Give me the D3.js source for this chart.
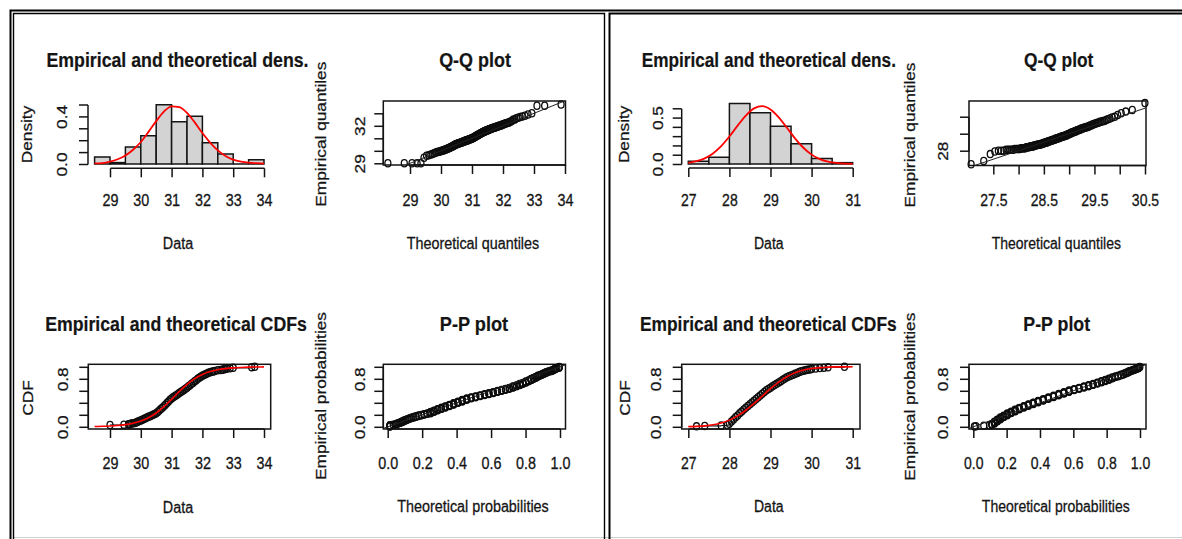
<!DOCTYPE html>
<html>
<head>
<meta charset="utf-8">
<script src="https://cdn.jsdelivr.net/npm/d3@7"></script>
<style>
  body { margin: 0; background: #fff; }
  svg { display: block; }
</style>
</head>
<body>
<div id="container"></div>
<script>
/* DATA */
// fitted distributions
const locA = 31.08, scaleA = 0.48;   // left: logistic
const meanB = 28.78, sdB = 0.64;     // right: normal

// samples as frequency tables (value, count)
const sampleAValues = [29.0, 29.45,
  29.6, 29.65, 29.7, 29.75, 29.8, 29.85, 29.9, 29.95, 30.0,
  30.05, 30.1, 30.15, 30.2, 30.25, 30.3, 30.35, 30.4, 30.45, 30.5,
  30.55, 30.6, 30.65, 30.7, 30.75, 30.8, 30.85, 30.9, 30.95, 31.0,
  31.05, 31.1, 31.15, 31.2, 31.25, 31.3, 31.35, 31.4, 31.45, 31.5,
  31.55, 31.6, 31.65, 31.7, 31.75, 31.8, 31.85, 31.9, 31.95, 32.0,
  32.05, 32.1, 32.15, 32.2, 32.25, 32.3, 32.35, 32.4, 32.5,
  32.6, 32.65, 32.7, 32.75, 32.8, 32.9, 33.0,
  33.6, 33.7];
const sampleACounts = [5, 1,
  1, 1, 1, 1, 1, 1, 2, 2, 2,
  2, 2, 2, 2, 2, 2, 2, 2, 2, 2,
  4, 4, 4, 4, 4, 4, 5, 4, 5, 4,
  3, 3, 3, 3, 3, 3, 3, 3, 3, 3,
  4, 3, 4, 3, 4, 3, 4, 3, 3, 3,
  2, 2, 2, 2, 2, 1, 1, 1, 2,
  1, 1, 1, 1, 1, 1, 1,
  2, 1];

const sampleBValues = [27.2, 27.4, 27.8, 27.95, 28.0,
  28.05, 28.1, 28.15, 28.2, 28.25, 28.3, 28.35, 28.4, 28.45, 28.5,
  28.55, 28.6, 28.65, 28.7, 28.75, 28.8, 28.85, 28.9, 28.95, 29.0,
  29.05, 29.1, 29.15, 29.2, 29.25, 29.3, 29.35, 29.4, 29.45, 29.5,
  29.55, 29.6, 29.65, 29.7, 29.75, 29.8, 29.85, 29.9, 29.95, 30.0,
  30.1, 30.2, 30.3, 30.4, 30.8];
const sampleBCounts = [1, 1, 1, 1, 3,
  5, 5, 5, 4, 5, 4, 5, 4, 4, 4,
  4, 4, 4, 4, 4, 4, 4, 4, 3, 3,
  3, 3, 3, 3, 3, 3, 3, 3, 2, 2,
  2, 2, 2, 2, 2, 1, 1, 1, 1, 1,
  1, 1, 1, 1, 1];

// histograms
const histABreaks = [28.5, 29, 29.5, 30, 30.5, 31, 31.5, 32, 32.5, 33, 33.5, 34];
const histADensity = [0.059, 0.012, 0.142, 0.237, 0.497, 0.355, 0.402, 0.178, 0.083, 0.0, 0.036];
const histBBreaks = [27, 27.5, 28, 28.5, 29, 29.5, 30, 30.5, 31];
const histBDensity = [0.029, 0.072, 0.652, 0.551, 0.406, 0.217, 0.058, 0.0145];

// red theoretical curves
const curveAX = [28.5, 28.75, 29, 29.25, 29.5, 29.75, 30, 30.25, 30.5, 30.75, 31, 31.25,
  31.5, 31.75, 32, 32.25, 32.5, 32.75, 33, 33.25, 33.5, 33.75, 34];
const densAY = [0.005, 0.008, 0.02, 0.04, 0.072, 0.12, 0.185, 0.27, 0.36, 0.44, 0.485, 0.478,
  0.43, 0.35, 0.26, 0.18, 0.115, 0.068, 0.037, 0.02, 0.011, 0.007, 0.004];
const cdfAY = [0.005, 0.008, 0.013, 0.022, 0.036, 0.059, 0.095, 0.151, 0.230, 0.335, 0.458, 0.588,
  0.706, 0.802, 0.872, 0.920, 0.951, 0.970, 0.982, 0.989, 0.994, 0.996, 0.998];

const curveBX = [27, 27.2, 27.4, 27.6, 27.8, 28, 28.2, 28.4, 28.6, 28.8, 29, 29.2,
  29.4, 29.6, 29.8, 30, 30.2, 30.4, 30.6, 30.8, 31];
const densBY = [0.013, 0.030, 0.061, 0.114, 0.193, 0.296, 0.413, 0.522, 0.599, 0.623, 0.587, 0.502,
  0.390, 0.274, 0.175, 0.101, 0.053, 0.025, 0.011, 0.004, 0.002];
const cdfBY = [0.003, 0.007, 0.016, 0.033, 0.063, 0.111, 0.182, 0.276, 0.389, 0.512, 0.635, 0.744,
  0.834, 0.900, 0.945, 0.972, 0.987, 0.994, 0.998, 0.999, 1.0];

// ticks and their labels ("" = tick without label)
const dataATicks = [29, 30, 31, 32, 33, 34];
const dataALabels = ["29", "30", "31", "32", "33", "34"];
const dataBTicks = [27, 28, 29, 30, 31];
const dataBLabels = ["27", "28", "29", "30", "31"];
const densATicks = [0, 0.1, 0.2, 0.3, 0.4, 0.5];
const densALabels = ["0.0", "", "", "", "0.4", ""];
const densBTicks = [0, 0.1, 0.2, 0.3, 0.4, 0.5, 0.6];
const densBLabels = ["0.0", "", "", "", "", "0.5", ""];
const qqAYTicks = [29, 30, 31, 32, 33];
const qqAYLabels = ["29", "", "", "32", ""];
const qqBXTicks = [27.5, 28, 28.5, 29, 29.5, 30, 30.5];
const qqBXLabels = ["27.5", "", "28.5", "", "29.5", "", "30.5"];
const qqBYTicks = [28, 29, 30];
const qqBYLabels = ["28", "", ""];
const probTicks = [0, 0.2, 0.4, 0.6, 0.8, 1];
const probXLabels = ["0.0", "0.2", "0.4", "0.6", "0.8", "1.0"];
const probYLabels = ["0.0", "", "", "", "0.8", ""];

/* SETUP */
const width = 1182, height = 539;
const FONT = "'Liberation Sans', Arial, Helvetica, sans-serif";
const INK = "#141414";
const FS = 17.3;

const svg = d3.select("#container")
  .append("svg")
  .attr("width", width)
  .attr("height", height)
  .style("background", "#fff");

function expand(values, counts) {
  const out = [];
  values.forEach((v, i) => { for (let k = 0; k < counts[i]; k++) out.push(v); });
  return out;
}

// distribution helpers
const plogis = x => 1 / (1 + Math.exp(-(x - locA) / scaleA));
const qlogis = p => locA + scaleA * Math.log(p / (1 - p));
function erf(x) {
  const s = x < 0 ? -1 : 1; x = Math.abs(x);
  const t = 1 / (1 + 0.3275911 * x);
  const y = 1 - (((((1.061405429 * t - 1.453152027) * t) + 1.421413741) * t - 0.284496736) * t + 0.254829592) * t * Math.exp(-x * x);
  return s * y;
}
const pnormB = x => 0.5 * (1 + erf((x - meanB) / (sdB * Math.SQRT2)));
function qnormB(p) {
  let lo = meanB - 10 * sdB, hi = meanB + 10 * sdB;
  for (let k = 0; k < 60; k++) {
    const mid = (lo + hi) / 2;
    if (pnormB(mid) < p) lo = mid; else hi = mid;
  }
  return (lo + hi) / 2;
}

/* TEXT + AXES */
function label(str, x, y, o = {}) {
  let tr = `translate(${x},${y})`;
  if (o.rot) tr += " rotate(-90) scale(1,0.83)";
  else if (!o.len) tr += ` scale(${o.sx || 0.83},1)`;
  const t = svg.append("text")
    .attr("transform", tr)
    .attr("text-anchor", "middle")
    .attr("fill", INK)
    .attr("stroke", INK)
    .attr("stroke-width", o.bold ? 0.2 : 0.3)
    .style("font-family", FONT)
    .style("font-size", (o.size || FS) + "px")
    .style("font-weight", o.bold ? "bold" : "normal")
    .text(str);
  if (o.len) t.attr("textLength", o.len).attr("lengthAdjust", "spacingAndGlyphs");
}

function xAxis(xs, ticks, labels, axisY, labelY, sx) {
  const g = svg.append("g")
    .attr("transform", `translate(0,${axisY})`)
    .call(d3.axisBottom(xs).tickValues(ticks).tickFormat((d, i) => labels[i]).tickSize(9).tickSizeOuter(0));
  g.select(".domain").remove();
  g.append("line")
    .attr("x1", xs(ticks[0]) + 0.5).attr("x2", xs(ticks[ticks.length - 1]) + 0.5)
    .attr("stroke", INK).attr("stroke-width", 1.5);
  g.selectAll(".tick line").attr("stroke", INK).attr("stroke-width", 1.5);
  g.selectAll(".tick text")
    .attr("y", labelY - axisY).attr("dy", null)
    .attr("fill", INK).attr("stroke", INK).attr("stroke-width", 0.3)
    .attr("transform", `scale(${sx},1)`);
  g.attr("font-family", FONT).attr("font-size", FS);
}

function yAxis(ys, ticks, labels, axisX, labelX) {
  const g = svg.append("g")
    .attr("transform", `translate(${axisX},0)`)
    .call(d3.axisLeft(ys).tickValues(ticks).tickFormat((d, i) => labels[i]).tickSize(9).tickSizeOuter(0));
  g.select(".domain").remove();
  g.append("line")
    .attr("y1", ys(ticks[0]) + 0.5).attr("y2", ys(ticks[ticks.length - 1]) + 0.5)
    .attr("stroke", INK).attr("stroke-width", 1.5);
  g.selectAll(".tick line").attr("stroke", INK).attr("stroke-width", 1.5);
  g.selectAll(".tick text")
    .attr("x", 0).attr("y", 0).attr("dy", null)
    .attr("text-anchor", "middle")
    .attr("fill", INK).attr("stroke", INK).attr("stroke-width", 0.3)
    .attr("transform", `translate(${labelX - axisX},0) rotate(-90) scale(1,0.83)`);
  g.attr("font-family", FONT).attr("font-size", FS);
}

function box(b) {
  svg.append("rect")
    .attr("x", b[0]).attr("y", b[2])
    .attr("width", b[1] - b[0]).attr("height", b[3] - b[2])
    .attr("fill", "none").attr("stroke", INK).attr("stroke-width", 1.5);
}

function dots(g, pts, xs, ys) {
  g.selectAll("ellipse").data(pts).join("ellipse")
    .attr("cx", d => xs(d[0])).attr("cy", d => ys(d[1]))
    .attr("rx", 3.0).attr("ry", 3.6)
    .attr("fill", "none").attr("stroke", "#0d0d0d").attr("stroke-width", 1.3);
}

function diagonal(xs, ys, b) {
  const lo = Math.max(xs.invert(b[0]), ys.invert(b[3]));
  const hi = Math.min(xs.invert(b[1]), ys.invert(b[2]));
  svg.append("line")
    .attr("x1", xs(lo)).attr("y1", ys(lo)).attr("x2", xs(hi)).attr("y2", ys(hi))
    .attr("stroke", "#222").attr("stroke-width", 1);
}

const redLine = (xs, ys) => d3.line().x(d => xs(d[0])).y(d => ys(d[1])).curve(d3.curveMonotoneX);

/* FRAME */
svg.append("line").attr("x1", 14).attr("x2", width).attr("y1", 537.5).attr("y2", 537.5)
  .attr("stroke", "#cfcfcf").attr("stroke-width", 1);
svg.append("path").attr("d", "M10.5,539V10.5H1182").attr("fill", "none").attr("stroke", "#000").attr("stroke-width", 2);
svg.append("path").attr("d", "M13.5,539V13.5H604.5V539").attr("fill", "none").attr("stroke", "#000").attr("stroke-width", 1.4);
svg.append("path").attr("d", "M609.5,539V13.5H1182").attr("fill", "none").attr("stroke", "#000").attr("stroke-width", 2);

/* PANELS */
function densityPanel(o) {
  const xs = d3.scaleLinear().domain(o.xDom).range(o.xRng);
  const ys = d3.scaleLinear().domain(o.yDom).range(o.yRng);
  svg.append("g").selectAll("path").data(o.density).join("path")
    .attr("d", (d, i) => `M${xs(o.breaks[i])},${ys(0)}V${ys(d)}H${xs(o.breaks[i + 1])}V${ys(0)}Z`)
    .attr("fill", "#d3d3d3").attr("stroke", INK).attr("stroke-width", 1.5);
  svg.append("path")
    .datum(o.cx.map((v, i) => [v, o.cy[i]]))
    .attr("d", redLine(xs, ys))
    .attr("fill", "none").attr("stroke", "#ff0000").attr("stroke-width", 1.8);
  xAxis(xs, o.xTicks, o.xLabels, o.axisY, o.xLabelY, o.sx);
  yAxis(ys, o.yTicks, o.yLabels, o.axisX, o.yLabelX);
}

function cdfPanel(o) {
  const xs = d3.scaleLinear().domain(o.xDom).range(o.xRng);
  const ys = d3.scaleLinear().domain([0, 1]).range(o.yRng);
  box(o.box);
  const n = d3.sum(o.counts);
  let cum = 0;
  const steps = o.values.map((v, i) => { cum += o.counts[i]; return [v, cum / n]; });
  const g = svg.append("g");
  g.selectAll("line").data(steps.slice(0, -1)).join("line")
    .attr("x1", d => xs(d[0])).attr("x2", (d, i) => xs(steps[i + 1][0]))
    .attr("y1", d => ys(d[1])).attr("y2", d => ys(d[1]))
    .attr("stroke", "#111").attr("stroke-width", 1.2);
  dots(g, steps, xs, ys);
  svg.append("path")
    .datum(o.cx.map((v, i) => [v, o.cy[i]]))
    .attr("d", redLine(xs, ys))
    .attr("fill", "none").attr("stroke", "#ff0000").attr("stroke-width", 1.6);
  xAxis(xs, o.xTicks, o.xLabels, o.box[3], o.xLabelY, o.sx);
  yAxis(ys, probTicks, probYLabels, o.box[0], o.yLabelX);
}

function qqPanel(o) {
  const xs = d3.scaleLinear().domain(o.xDom).range(o.xRng);
  const ys = d3.scaleLinear().domain(o.yDom).range(o.yRng);
  box(o.box);
  const s = expand(o.values, o.counts);
  const n = s.length;
  const pts = s.map((v, i) => [o.q((i + 0.5) / n), v]);
  dots(svg.append("g"), pts, xs, ys);
  diagonal(xs, ys, o.box);
  xAxis(xs, o.xTicks, o.xLabels, o.box[3], o.xLabelY, o.sx);
  yAxis(ys, o.yTicks, o.yLabels, o.box[0], o.yLabelX);
}

function ppPanel(o) {
  const xs = d3.scaleLinear().domain([0, 1]).range(o.xRng);
  const ys = d3.scaleLinear().domain([0, 1]).range(o.yRng);
  box(o.box);
  const s = expand(o.values, o.counts);
  const n = s.length;
  const pts = s.map((v, i) => [o.p(v), (i + 0.5) / n]);
  dots(svg.append("g"), pts, xs, ys);
  diagonal(xs, ys, o.box);
  xAxis(xs, probTicks, probXLabels, o.box[3], o.xLabelY, o.sx);
  yAxis(ys, probTicks, probYLabels, o.box[0], o.yLabelX);
}

/* LEFT PANEL */
densityPanel({
  breaks: histABreaks, density: histADensity, cx: curveAX, cy: densAY,
  xDom: [29, 34], xRng: [110, 264], yDom: [0, 0.5], yRng: [164, 104.5],
  xTicks: dataATicks, xLabels: dataALabels, yTicks: densATicks, yLabels: densALabels,
  axisY: 168.3, axisX: 88, xLabelY: 206.5, yLabelX: 67, sx: 0.83
});
label("Empirical and theoretical dens.", 177.5, 66.7, { bold: true, size: 19.5, len: 262 });
label("Data", 178, 249);
label("Density", 32, 134.5, { rot: true });

qqPanel({
  values: sampleAValues, counts: sampleACounts, q: qlogis,
  box: [383.3, 565.5, 101, 165],
  xDom: [29, 34], xRng: [410, 565], yDom: [29, 33], yRng: [163.3, 113.3],
  xTicks: dataATicks, xLabels: dataALabels, yTicks: qqAYTicks, yLabels: qqAYLabels,
  xLabelY: 206.5, yLabelX: 364.5, sx: 0.83
});
label("Q-Q plot", 475, 66.7, { bold: true, size: 19.5, len: 71.7 });
label("Theoretical quantiles", 473, 249);
label("Empirical quantiles", 325.5, 134.2, { rot: true });

cdfPanel({
  values: sampleAValues, counts: sampleACounts, cx: curveAX, cy: cdfAY,
  box: [88.3, 270.7, 364.3, 429],
  xDom: [29, 34], xRng: [110, 264], yRng: [426.8, 366.8],
  xTicks: dataATicks, xLabels: dataALabels,
  xLabelY: 469.5, yLabelX: 67.5, sx: 0.83
});
label("Empirical and theoretical CDFs", 176, 330.5, { bold: true, size: 19.5, len: 261.7 });
label("Data", 178, 512.5);
label("CDF", 32.5, 398, { rot: true });

ppPanel({
  values: sampleAValues, counts: sampleACounts, p: plogis,
  box: [383.3, 565.5, 364.3, 429],
  xRng: [387.7, 560], yRng: [426.8, 366.8],
  xLabelY: 469.5, yLabelX: 364.5, sx: 0.83
});
label("P-P plot", 474, 330.5, { bold: true, size: 19.5, len: 68.3 });
label("Theoretical probabilities", 473, 512);
label("Empirical probabilities", 325.5, 396, { rot: true });

/* RIGHT PANEL */
densityPanel({
  breaks: histBBreaks, density: histBDensity, cx: curveBX, cy: densBY,
  xDom: [27, 31], xRng: [688.3, 852.7], yDom: [0, 0.6], yRng: [164, 108.3],
  xTicks: dataBTicks, xLabels: dataBLabels, yTicks: densBTicks, yLabels: densBLabels,
  axisY: 168, axisX: 681.7, xLabelY: 206.5, yLabelX: 662.5, sx: 0.81
});
label("Empirical and theoretical dens.", 768.8, 66.7, { bold: true, size: 19.5, len: 254.3 });
label("Data", 768.8, 249, { sx: 0.81 });
label("Density", 629, 134.3, { rot: true });

qqPanel({
  values: sampleBValues, counts: sampleBCounts, q: qnormB,
  box: [969, 1146, 101, 165.5],
  xDom: [27.5, 30.5], xRng: [993.3, 1145], yDom: [28, 30], yRng: [150.7, 116.7],
  xTicks: qqBXTicks, xLabels: qqBXLabels, yTicks: qqBYTicks, yLabels: qqBYLabels,
  xLabelY: 206.5, yLabelX: 948, sx: 0.81
});
label("Q-Q plot", 1058.7, 66.7, { bold: true, size: 19.5, len: 69.3 });
label("Theoretical quantiles", 1056.3, 249, { sx: 0.81 });
label("Empirical quantiles", 915, 135, { rot: true });

cdfPanel({
  values: sampleBValues, counts: sampleBCounts, cx: curveBX, cy: cdfBY,
  box: [681.7, 860, 364.3, 429],
  xDom: [27, 31], xRng: [688.3, 852.7], yRng: [426.8, 366.8],
  xTicks: dataBTicks, xLabels: dataBLabels,
  xLabelY: 469.5, yLabelX: 661, sx: 0.81
});
label("Empirical and theoretical CDFs", 768.3, 330.5, { bold: true, size: 19.5, len: 256.7 });
label("Data", 768.8, 512, { sx: 0.81 });
label("CDF", 629.5, 398, { rot: true });

ppPanel({
  values: sampleBValues, counts: sampleBCounts, p: pnormB,
  box: [969, 1146, 364.3, 429],
  xRng: [973.3, 1140], yRng: [426.8, 366.8],
  xLabelY: 469.5, yLabelX: 948, sx: 0.81
});
label("P-P plot", 1056.7, 330.5, { bold: true, size: 19.5, len: 66.7 });
label("Theoretical probabilities", 1055.8, 512, { sx: 0.81 });
label("Empirical probabilities", 914.5, 396.7, { rot: true });
</script>
</body>
</html>
